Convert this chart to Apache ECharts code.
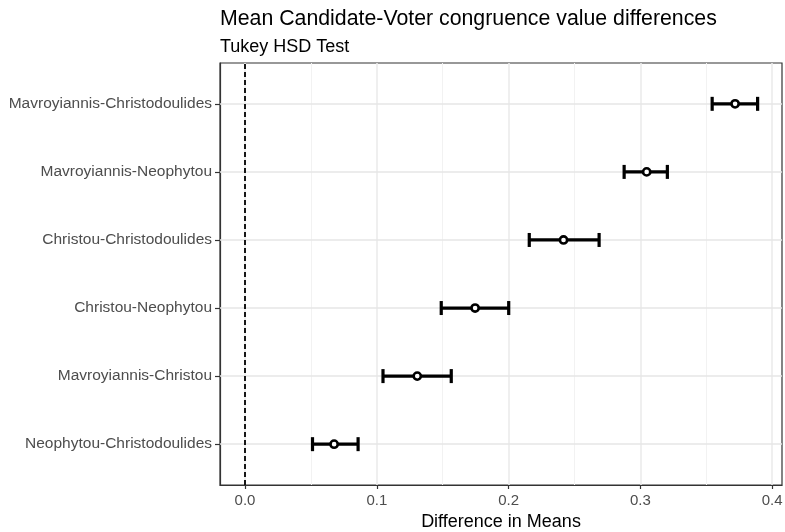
<!DOCTYPE html>
<html>
<head>
<meta charset="utf-8">
<script src="https://cdn.jsdelivr.net/npm/echarts@6/dist/echarts.min.js"></script>
<style>html,body{margin:0;padding:0;background:#fff}#c{width:785px;height:532px}</style>
</head>
<body>
<div id="c"></div>
<script>
const categories = ['Neophytou-Christodoulides','Mavroyiannis-Christou','Christou-Neophytou','Christou-Christodoulides','Mavroyiannis-Neophytou','Mavroyiannis-Christodoulides'];
const diff = [0.0676, 0.1307, 0.1746, 0.2417, 0.3048, 0.3719];
const lwr  = [0.0512, 0.1047, 0.1489, 0.2157, 0.2877, 0.3545];
const upr  = [0.0858, 0.1565, 0.2001, 0.2687, 0.3205, 0.3890];
const xTicks = [0, 0.1, 0.2, 0.3, 0.4];
const xMinor = [0.05, 0.15, 0.25, 0.35];
const yPos = [1, 2, 3, 4, 5, 6];

const data = categories.map((c, i) => [lwr[i], diff[i], upr[i], yPos[i]]);
const chart = echarts.init(document.getElementById('c'), null, {renderer: 'canvas'});
const font = 'Liberation Sans, Arial, sans-serif';

const gridLines = xTicks.map(v => ({xAxis: v, lineStyle: {color: '#EBEBEB', width: 1.6, type: 'solid'}}))
  .concat(xMinor.map(v => ({xAxis: v, lineStyle: {color: '#F2F2F2', width: 1, type: 'solid'}})))
  .concat(yPos.map(v => ({yAxis: v, lineStyle: {color: '#E6E6E6', width: 1.6, type: 'solid'}})));

chart.setOption({
  animation: false,
  title: {
    text: 'Mean Candidate-Voter congruence value differences',
    subtext: 'Tukey HSD Test',
    left: 215, top: 4,
    itemGap: 8,
    textStyle: {fontFamily: font, fontSize: 21.3, fontWeight: 'normal', color: '#000'},
    subtextStyle: {fontFamily: font, fontSize: 18, color: '#000'}
  },
  grid: {left: 220, right: 3, top: 63, bottom: 47, show: true, borderColor: '#333', borderWidth: 1.2, containLabel: false, outerBoundsMode: 'none'},
  xAxis: {
    type: 'value', min: -0.019, max: 0.4075,
    axisLine: {show: true, onZero: false, lineStyle: {color: '#333', width: 1.2}},
    splitLine: {show: false},
    axisTick: {show: true, length: 4, lineStyle: {color: '#333', width: 1.2}, customValues: xTicks},
    axisLabel: {customValues: xTicks, formatter: v => v.toFixed(1), color: '#4D4D4D', fontSize: 15, fontFamily: font, margin: 8},
    name: 'Difference in Means', nameLocation: 'middle', nameGap: 27,
    nameTextStyle: {fontFamily: font, fontSize: 18, color: '#000'}
  },
  yAxis: {
    type: 'value', min: 0.4, max: 6.6,
    axisLine: {show: true, onZero: false, lineStyle: {color: '#333', width: 1.2}},
    splitLine: {show: false},
    axisTick: {show: true, length: 5, lineStyle: {color: '#333', width: 1.2}, customValues: yPos},
    axisLabel: {customValues: yPos, formatter: v => categories[Math.round(v) - 1] || '', color: '#4D4D4D', fontSize: 15.5, fontFamily: font, margin: 8}
  },
  series: [
    {
      type: 'line', data: [], silent: true, z: 1,
      markLine: {silent: true, symbol: 'none', label: {show: false}, animation: false, data: gridLines}
    },
    {
      type: 'line', data: [], silent: true, z: 2,
      markLine: {silent: true, symbol: 'none', label: {show: false}, animation: false,
        data: [{xAxis: 0, lineStyle: {color: '#000', width: 1.8, type: [5, 3]}}]}
    },
    {
      type: 'custom', z: 5,
      encode: {x: [0, 1, 2], y: 3},
      data: data,
      renderItem: function (params, api) {
        const y = api.value(3);
        const pLo = api.coord([api.value(0), y]);
        const pMid = api.coord([api.value(1), y]);
        const pHi = api.coord([api.value(2), y]);
        const h = 7;
        const st = {stroke: '#000', lineWidth: 3.2, fill: null};
        return {type: 'group', children: [
          {type: 'line', shape: {x1: pLo[0], y1: pLo[1], x2: pHi[0], y2: pHi[1]}, style: st},
          {type: 'line', shape: {x1: pLo[0], y1: pLo[1] - h, x2: pLo[0], y2: pLo[1] + h}, style: st},
          {type: 'line', shape: {x1: pHi[0], y1: pHi[1] - h, x2: pHi[0], y2: pHi[1] + h}, style: st},
          {type: 'circle', shape: {cx: pMid[0], cy: pMid[1], r: 3.6}, style: {fill: '#fff', stroke: '#000', lineWidth: 2.6}}
        ]};
      }
    }
  ]
});
</script>
</body>
</html>
